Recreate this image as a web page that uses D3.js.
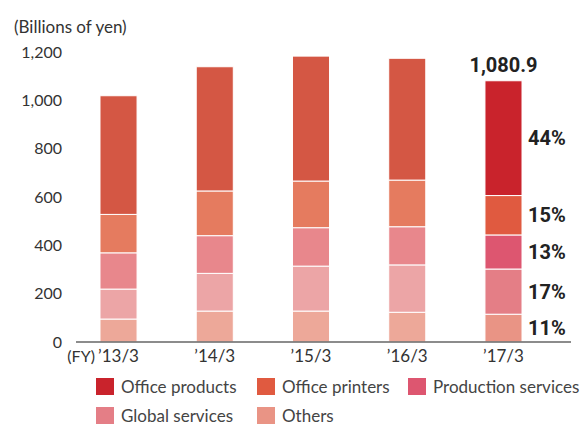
<!DOCTYPE html>
<html>
  <head>
    <meta charset="utf-8">
    <title>Sales by category</title>
    <script src="https://d3js.org/d3.v7.min.js"></script>
    <style>
      body { margin: 0; background: #fff; }
      text { font-family: Lato, "Noto Sans", sans-serif; fill: #333; }
      .pct { font-family: Roboto, sans-serif; font-weight: 700; fill: #222; }
    </style>
  </head>
  <body>
  <svg id="chart" width="580" height="426"></svg>
  <script>
    // data (billions of yen)
    var years = ["\u201913/3", "\u201914/3", "\u201915/3", "\u201916/3", "\u201917/3"];
    var categories = ["Others", "Global services", "Production services", "Office printers", "Office products"];
    var others     = [95, 128, 128, 123, 115];
    var global     = [124, 156, 186, 196, 187];
    var production = [150, 156, 159, 158, 141];
    var printers   = [159, 185, 193, 193, 163];
    var products   = [491, 514, 517, 504, 475];
    var yTicks = [0, 200, 400, 600, 800, 1000, 1200];
    var pctLabels = ["11%", "17%", "13%", "15%", "44%"];
    var totalLabel = "1,080.9";

    var mutedColors  = ["#eda899", "#eca5a6", "#e8878c", "#e57b5f", "#d45744"];
    var brightColors = ["#e99485", "#e47e86", "#dd5670", "#e05a40", "#c9232c"];

    var rows = years.map(function(y, i) {
      return { year: y, i: i, Others: others[i], "Global services": global[i],
        "Production services": production[i], "Office printers": printers[i],
        "Office products": products[i] };
    });
    var series = d3.stack().keys(categories)(rows);

    var svg = d3.select("#chart");

    var x = d3.scaleBand()
      .domain(years)
      .range([70.4, 551.6])
      .paddingInner(0.615)
      .paddingOuter(0.3075);

    var y = d3.scaleLinear()
      .domain([0, 1200])
      .range([342, 52]);

    // y tick labels
    svg.append("g")
      .selectAll("text")
      .data(yTicks)
      .enter()
      .append("text")
      .attr("x", 62)
      .attr("y", function(d) { return y(d); })
      .attr("dy", "0.36em")
      .attr("text-anchor", "end")
      .style("font-size", "16px")
      .text(function(d) { return d3.format(",")(d); });

    svg.append("text")
      .attr("x", 14)
      .attr("y", 33)
      .style("font-size", "17px")
      .text("(Billions of yen)");

    // bars
    svg.append("g")
      .selectAll("g")
      .data(series)
      .enter()
      .append("g")
      .each(function(s, k) {
        d3.select(this).selectAll("rect")
          .data(s)
          .enter()
          .append("rect")
          .attr("x", function(d) { return x(d.data.year); })
          .attr("width", x.bandwidth())
          .attr("y", function(d) { return y(d[1]); })
          .attr("height", function(d) { return y(d[0]) - y(d[1]); })
          .attr("fill", function(d) { return d.data.i === 4 ? brightColors[k] : mutedColors[k]; })
          .attr("stroke", "#fff")
          .attr("stroke-width", 1);
      });

    // axis line
    svg.append("line")
      .attr("x1", 76)
      .attr("x2", 571)
      .attr("y1", y(0))
      .attr("y2", y(0))
      .attr("stroke", "#666")
      .attr("stroke-width", 1.5);

    // x labels
    svg.append("g")
      .selectAll("text")
      .data(years)
      .enter()
      .append("text")
      .attr("x", function(d) { return x(d) + x.bandwidth() / 2; })
      .attr("y", 362)
      .attr("text-anchor", "middle")
      .style("font-size", "17px")
      .text(function(d) { return d; });

    svg.append("text")
      .attr("x", 95)
      .attr("y", 362)
      .attr("text-anchor", "end")
      .style("font-size", "16px")
      .text("(FY)");

    // last bar labels
    var last = years.length - 1;
    svg.append("g")
      .selectAll("text")
      .data(series)
      .enter()
      .append("text")
      .attr("class", "pct")
      .attr("x", x(years[last]) + x.bandwidth() + 6)
      .attr("y", function(s) { return (y(s[last][0]) + y(s[last][1])) / 2; })
      .attr("dy", "0.36em")
      .style("font-size", "20px")
      .text(function(s, k) { return pctLabels[k]; });

    svg.append("text")
      .attr("class", "pct")
      .attr("x", x(years[last]) + x.bandwidth() / 2)
      .attr("y", y(series[series.length - 1][last][1]) - 9)
      .attr("text-anchor", "middle")
      .style("font-size", "20px")
      .text(totalLabel);

    // legend
    var legendItems = ["Office products", "Office printers", "Production services", "Global services", "Others"];
    var legendPos = [[96, 378], [257, 378], [408, 378], [96, 407], [257, 407]];
    var legend = svg.append("g")
      .selectAll("g")
      .data(legendItems)
      .enter()
      .append("g")
      .attr("transform", function(d, i) { return "translate(" + legendPos[i][0] + "," + legendPos[i][1] + ")"; });

    legend.append("rect")
      .attr("width", 18)
      .attr("height", 17)
      .attr("fill", function(d) { return brightColors[categories.indexOf(d)]; });

    legend.append("text")
      .attr("x", 25)
      .attr("y", 8.5)
      .attr("dy", "0.36em")
      .style("font-size", "17px")
      .style("fill", "#444")
      .text(function(d) { return d; });
  </script>
  </body>
</html>
